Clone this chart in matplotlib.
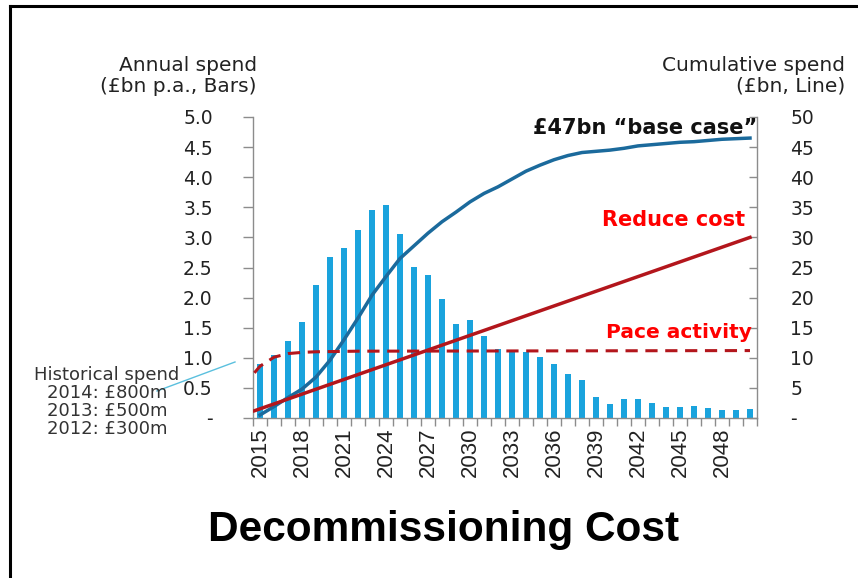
import matplotlib
matplotlib.use("Agg")
import matplotlib.pyplot as plt
from matplotlib.lines import Line2D
from matplotlib.ticker import FixedLocator

# Annual spend (GBP bn p.a., bars) 2015-2050
years = list(range(2015, 2051))
annual_spend = [0.90, 1.04, 1.28, 1.59, 2.21, 2.68, 2.82, 3.12, 3.45, 3.54,
                3.06, 2.51, 2.38, 1.97, 1.56, 1.62, 1.37, 1.14, 1.12, 1.09,
                1.02, 0.89, 0.73, 0.63, 0.35, 0.23, 0.32, 0.32, 0.25, 0.18,
                0.18, 0.20, 0.17, 0.14, 0.14, 0.155]

# Cumulative spend (GBP bn, line) - base case
cumulative = [0.5, 1.9, 3.4, 4.8, 6.8, 9.6, 13.0, 16.6, 20.4, 23.5,
              26.5, 28.6, 30.7, 32.6, 34.2, 35.9, 37.3, 38.4, 39.7, 41.0,
              42.0, 42.9, 43.6, 44.1, 44.3, 44.5, 44.8, 45.2, 45.4, 45.6,
              45.8, 45.9, 46.1, 46.3, 46.4, 46.5]

# "Reduce cost" scenario
reduce_years = [2014.6, 2050]
reduce_values = [1.2, 30.0]

# "Pace activity" scenario
pace_years = [2014.6, 2015, 2016, 2017, 2018, 2019, 2022, 2050]
pace_values = [7.5, 8.6, 10.1, 10.7, 10.9, 11.0, 11.1, 11.2]

label_years = list(range(2015, 2049, 3))
left_ticks = [0, 0.5, 1.0, 1.5, 2.0, 2.5, 3.0, 3.5, 4.0, 4.5, 5.0]
left_labels = ["-", "0.5", "1.0", "1.5", "2.0", "2.5", "3.0", "3.5", "4.0", "4.5", "5.0"]
right_ticks = [0, 5, 10, 15, 20, 25, 30, 35, 40, 45, 50]
right_labels = ["-", "5", "10", "15", "20", "25", "30", "35", "40", "45", "50"]

W, H = 858, 578
fig = plt.figure(figsize=(W / 100, H / 100), dpi=100)
ax = fig.add_axes([253 / W, (H - 418) / H, (757 - 253) / W, (418 - 117) / H])
ax2 = ax.twinx()

bar_col = "#1AA3DD"
line_col = "#1B6A9C"
red_col = "#B3161C"
axis_col = "#8C8C8C"
txt_col = "#222222"
wide = "DejaVu Sans"

ax.bar(years, annual_spend, width=0.43, color=bar_col, zorder=2)
ax2.plot(years, cumulative, color=line_col, lw=2.5, zorder=3)
ax2.plot(reduce_years, reduce_values, color=red_col, lw=2.5, zorder=3)
ax2.plot(pace_years, pace_values, color=red_col, lw=2.2, ls=(0, (4, 2.5)), zorder=3)

ax.set_xlim(2014.5, 2050.5)
ax.set_ylim(0, 5)
ax2.set_ylim(0, 50)

for a in (ax, ax2):
    a.spines["top"].set_visible(False)
    for s in ("left", "right", "bottom"):
        a.spines[s].set_color(axis_col)
        a.spines[s].set_linewidth(1.0)
ax.patch.set_visible(False)
ax.set_zorder(ax2.get_zorder() - 1)
ax2.patch.set_visible(False)
ax.spines["right"].set_visible(False)
ax2.spines["left"].set_visible(False)
ax2.spines["bottom"].set_visible(False)

ax.set_yticks(left_ticks)
ax.set_yticklabels(left_labels, fontsize=13.5, family=wide, color=txt_col)
ax.tick_params(axis="y", direction="out", length=7, width=1, color=axis_col, pad=22)

ax2.set_yticks(right_ticks)
ax2.set_yticklabels(right_labels, fontsize=13.5, family=wide, color=txt_col)
ax2.tick_params(axis="y", direction="in", length=6, width=1, color=axis_col, pad=24)

ax.set_xticks(label_years)
ax.set_xticklabels([str(y) for y in label_years], rotation=90,
                   fontsize=16, family=["Liberation Sans Narrow", "Liberation Sans"],
                   color=txt_col)
ax.tick_params(axis="x", length=0, pad=7)
ax.xaxis.set_minor_locator(FixedLocator([y - 0.5 for y in years] + [years[-1] + 0.5]))
ax.tick_params(axis="x", which="minor", direction="out", length=6, width=1, color=axis_col)

# axis titles
fig.text(257 / W, 1 - 76 / H, "Annual spend\n(£bn p.a., Bars)", ha="right", va="center",
         fontsize=14.5, family=wide, color=txt_col, linespacing=1.1)
fig.text(845 / W, 1 - 76 / H, "Cumulative spend\n(£bn, Line)", ha="right", va="center",
         fontsize=14.5, family=wide, color=txt_col, linespacing=1.1)

# scenario labels
fig.text(757 / W, 1 - 128 / H, "£47bn \u201cbase case\u201d", ha="right", va="center",
         fontsize=15, family=wide, weight="bold", color="#111111")
fig.text(745 / W, 1 - 220 / H, "Reduce cost", ha="right", va="center",
         fontsize=15, family=wide, weight="bold", color="#FF0000")
fig.text(752 / W, 1 - 333 / H, "Pace activity", ha="right", va="center",
         fontsize=14.5, family=wide, weight="bold", color="#FF0000")

# historical spend note
fig.text(107 / W, 1 - 402 / H, "Historical spend\n2014: £800m\n2013: £500m\n2012: £300m",
         ha="center", va="center", fontsize=13, family=wide, color="#333333",
         linespacing=1.0)
fig.add_artist(Line2D([157 / W, 235 / W], [1 - 391 / H, 1 - 362 / H],
                      color="#5BC0DE", lw=1))

# title
fig.text(444 / W, 1 - 530 / H, "Decommissioning Cost", ha="center", va="center",
         fontsize=30.5, family="Liberation Sans", weight="bold", color="black")

# slide frame
fig.add_artist(Line2D([10 / W, 10 / W], [0, 1 - 6 / H], color="black", lw=2.2))
fig.add_artist(Line2D([10 / W, 1], [1 - 6 / H, 1 - 6 / H], color="black", lw=2.2))

fig.savefig("out.png", dpi=100)
